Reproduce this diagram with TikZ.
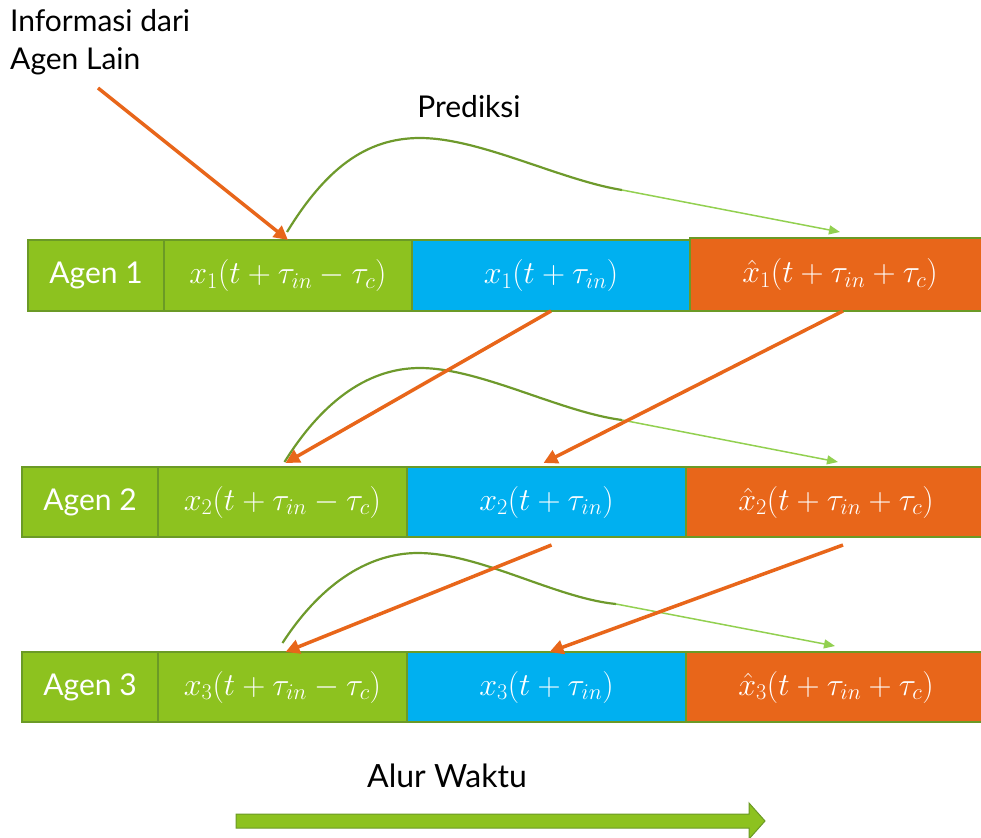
\RequirePackage{fix-cm}
\documentclass[tikz,border=0pt]{standalone}
\usepackage{fontspec}
\setmainfont{Lato}
\usetikzlibrary{arrows.meta}
\definecolor{gfill}{HTML}{8DC21F}
\definecolor{gline}{HTML}{6B9A26}
\definecolor{bfill}{HTML}{00B0F0}
\definecolor{ofill}{HTML}{E8661A}
\definecolor{cdark}{HTML}{6E9A2C}
\definecolor{clight}{HTML}{92D050}
\tikzset{
  cell/.style={draw=gline, line width=2pt, anchor=north west, inner sep=0pt, outer sep=0pt,
    text=white, font=\fontsize{30}{34}\selectfont},
  mcell/.style={font=\fontsize{32}{36}\selectfont},
  gcell/.style={cell, fill=gfill},
  bcell/.style={cell, fill=bfill, mcell},
  ocell/.style={cell, fill=ofill, mcell},
  lbl/.style={font=\fontsize{30}{38}\selectfont, text=black, inner sep=0pt},
  oarr/.style={draw=ofill, line width=3.5pt, -{Triangle[length=14pt,width=14pt]}},
  thickc/.style={draw=cdark, line width=2.2pt},
  thinc/.style={draw=clight, line width=1.5pt, -{Triangle[length=11pt,width=9pt]}},
}
\begin{document}
\begin{tikzpicture}[x=1pt,y=-1pt]
\useasboundingbox (0,0) rectangle (981,837);
% row 1
\node[gcell, minimum width=136pt, minimum height=71pt] (a1) at (28,240) {Agen 1};
\node[gcell, mcell, minimum width=248pt, minimum height=71pt] (c1) at (164,240) {$x_1(t+\tau_{in}-\tau_c)$};
\node[bcell, minimum width=278pt, minimum height=71pt] (b1) at (412,240) {$x_1(t+\tau_{in})$};
\node[ocell, minimum width=300pt, minimum height=73pt] (o1) at (690,238) {$\hat{x}_1(t+\tau_{in}+\tau_c)$\hspace{24pt}};
% row 2
\node[gcell, minimum width=136pt, minimum height=70pt] (a2) at (22,467) {Agen 2};
\node[gcell, mcell, minimum width=249pt, minimum height=70pt] (c2) at (158,467) {$x_2(t+\tau_{in}-\tau_c)$};
\node[bcell, minimum width=279pt, minimum height=70pt] (b2) at (407,467) {$x_2(t+\tau_{in})$\hspace{10pt}};
\node[ocell, minimum width=300pt, minimum height=70pt] (o2) at (686,467) {$\hat{x}_2(t+\tau_{in}+\tau_c)$\hspace{26pt}};
% row 3
\node[gcell, minimum width=136pt, minimum height=70pt] (a3) at (22,652) {Agen 3};
\node[gcell, mcell, minimum width=249pt, minimum height=70pt] (c3) at (158,652) {$x_3(t+\tau_{in}-\tau_c)$};
\node[bcell, minimum width=279pt, minimum height=70pt] (b3) at (407,652) {$x_3(t+\tau_{in})$\hspace{10pt}};
\node[ocell, minimum width=300pt, minimum height=70pt] (o3) at (686,652) {$\hat{x}_3(t+\tau_{in}+\tau_c)$\hspace{26pt}};
% labels
\node[lbl, anchor=north west, align=left] (info) at (10,9) {Informasi dari\\Agen Lain};
\node[lbl] (pred) at (469,107) {Prediksi};
\node[lbl, font=\fontsize{32}{36}\selectfont] (alur) at (447,776) {Alur Waktu};
% prediction curves
\coordinate (k1) at (622,190);
\coordinate (k2) at (622,420);
\coordinate (k3) at (616,604);
\draw[thickc] ([shift={(-1,-8)}]c1.north) .. controls (325,170) and (365,138) .. (420,138)
  .. controls (480,138) and (560,180) .. (k1);
\draw[thinc] (k1) -- ([shift={(0,-6)}]o1.north);
\draw[thickc] ([shift={(2,-5)}]c2.north) .. controls (320,405) and (365,368) .. (420,368)
  .. controls (480,368) and (560,412) .. (k2);
\draw[thinc] (k2) -- ([shift={(2,-5)}]o2.north);
\draw[thickc] ([shift={(0,-9)}]c3.north) .. controls (318,588) and (365,553) .. (418,553)
  .. controls (480,553) and (555,598) .. (k3);
\draw[thinc] (k3) -- ([shift={(-1,-6)}]o3.north);
% orange information arrows
\coordinate (infoStart) at (98,88);
\draw[oarr] (infoStart) -- (c1.north);
\draw[oarr] (b1.south) -- ([shift={(3,-4)}]c2.north);
\draw[oarr] ([shift={(3,0)}]o1.south) -- ([shift={(-3,-4)}]b2.north);
\draw[oarr] ([shift={(5,8)}]b2.south) -- ([shift={(3,0)}]c3.north);
\draw[oarr] ([shift={(7,8)}]o2.south) -- ([shift={(3,0)}]b3.north);
% time arrow
\draw[fill=gfill, draw=gline, line width=1pt] (236,814) -- (749,814) -- (749,803) -- (765,821)
  -- (749,839) -- (749,828) -- (236,828) -- cycle;
\end{tikzpicture}
\end{document}
